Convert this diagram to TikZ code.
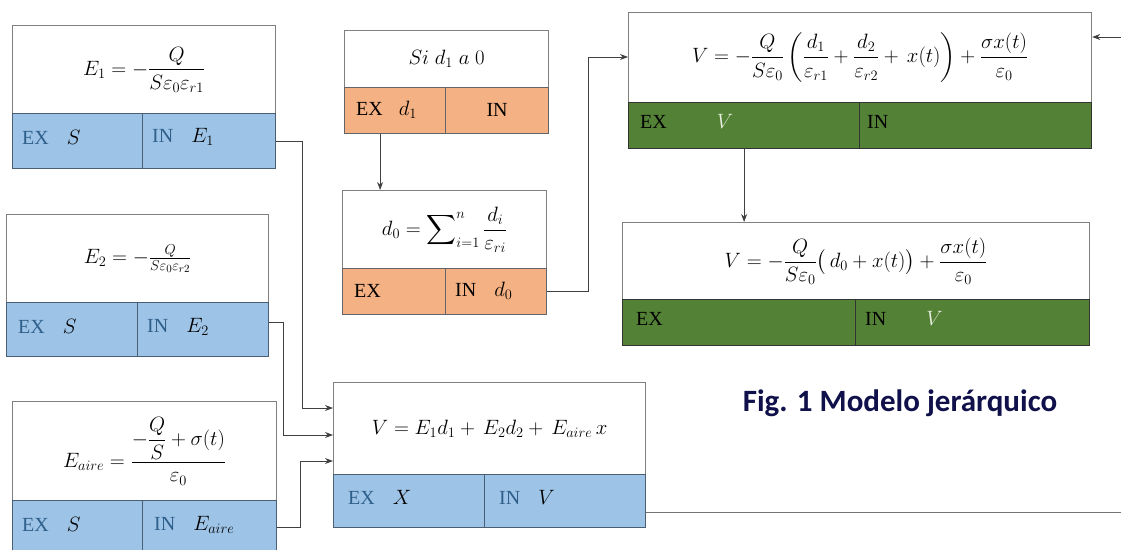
\documentclass[tikz,border=0pt]{standalone}
\usepackage{amsmath}
\usepackage{fontspec}
\setmainfont{Liberation Serif}
\newfontfamily\capfont{Carlito}
\usetikzlibrary{arrows.meta,calc}
\definecolor{cblue}{HTML}{9DC3E6}
\definecolor{corange}{HTML}{F4B183}
\definecolor{cgreen}{HTML}{538135}
\definecolor{bgray}{HTML}{808080}
\definecolor{bdark}{HTML}{4A5F73}
\definecolor{tblue}{HTML}{2E5F8A}
\definecolor{navy}{HTML}{10104A}
\definecolor{vlight}{HTML}{E8EEE0}
\tikzset{
  formbox/.style={draw=bgray, fill=white, line width=1.2pt, inner sep=0pt, anchor=north west, font=\fontsize{22}{26}\selectfont},
  bluecell/.style={draw=bdark, fill=cblue, line width=1.2pt, inner sep=0pt, anchor=north west},
  orangecell/.style={draw=bdark!80!brown, fill=corange, line width=1.2pt, inner sep=0pt, anchor=north west},
  greencell/.style={draw=black!80, fill=cgreen, line width=1.2pt, inner sep=0pt, anchor=north west},
  lbl/.style={anchor=west, inner sep=0pt, font=\fontsize{20}{24}\selectfont},
  conn/.style={draw=black!75, line width=0.9pt},
  arr/.style={conn, -{Stealth[length=8pt,width=6pt]}}
}
\begin{document}
\begin{tikzpicture}[x=1pt,y=-1pt]
\useasboundingbox (0,0) rectangle (1121,549);
% ---- Box E1
\node[formbox, minimum width=263, minimum height=88] (e1f) at (12,25) {$\displaystyle E_1 = -\frac{Q}{S\varepsilon_0\varepsilon_{r1}}$};
\node[bluecell, minimum width=130, minimum height=55] (e1ex) at (12,113) {};
\node[bluecell, minimum width=133, minimum height=55] (e1in) at (142,113) {};
\node[lbl, text=tblue] (e1exl) at ([xshift=10,yshift=4]e1ex.west) {EX\hspace{0.9em}\textcolor{black}{$S$}};
\node[lbl, text=tblue] (e1inl) at ([xshift=10,yshift=4]e1in.west) {IN\hspace{0.9em}\textcolor{black}{$E_1$}};
% ---- Box E2
\node[formbox, minimum width=262, minimum height=88] (e2f) at (6,214) {$E_2 = -\frac{Q}{S\varepsilon_0\varepsilon_{r2}}$};
\node[bluecell, minimum width=131, minimum height=54] (e2ex) at (6,302) {};
\node[bluecell, minimum width=131, minimum height=54] (e2in) at (137,302) {};
\node[lbl, text=tblue] (e2exl) at ([xshift=12,yshift=3]e2ex.west) {EX\hspace{0.9em}\textcolor{black}{$S$}};
\node[lbl, text=tblue] (e2inl) at ([xshift=10,yshift=3]e2in.west) {IN\hspace{0.9em}\textcolor{black}{$E_2$}};
% ---- Box Eaire
\node[formbox, minimum width=264, minimum height=99] (eaf) at (12,401) {$\displaystyle E_{aire} = \frac{-\dfrac{Q}{S}+\sigma(t)}{\varepsilon_0}$};
\node[bluecell, minimum width=130, minimum height=60] (eaex) at (12,500) {};
\node[bluecell, minimum width=134, minimum height=60] (eain) at (142,500) {};
\node[lbl, text=tblue] (eaexl) at ([xshift=10,yshift=6]eaex.west) {EX\hspace{0.9em}\textcolor{black}{$S$}};
\node[lbl, text=tblue] (eainl) at ([xshift=12,yshift=6]eain.west) {IN\hspace{0.9em}\textcolor{black}{$E_{aire}$}};
% ---- Box Si d1
\node[formbox, minimum width=204, minimum height=57] (s1f) at (344,30) {$Si\; d_1\; a\; 0$};
\node[orangecell, minimum width=101, minimum height=46] (s1ex) at (344,87) {};
\node[orangecell, minimum width=103, minimum height=46] (s1in) at (445,87) {};
\node[lbl] (s1exl) at ([xshift=12,yshift=1]s1ex.west) {EX\hspace{0.8em}$d_1$};
\node[lbl, anchor=center] (s1inl) at ([yshift=1]s1in.center) {IN};
% ---- Box d0
\node[formbox, minimum width=204, minimum height=78] (d0f) at (342,190) {$\displaystyle d_0 = \sum\nolimits_{i=1}^{n}\frac{d_i}{\varepsilon_{ri}}$};
\node[orangecell, minimum width=103, minimum height=46] (d0ex) at (342,268) {};
\node[orangecell, minimum width=101, minimum height=46] (d0in) at (445,268) {};
\node[lbl] (d0exl) at ([xshift=12,yshift=1]d0ex.west) {EX};
\node[lbl] (d0inl) at ([xshift=10,yshift=1]d0in.west) {IN\hspace{0.9em}$d_0$};
% ---- Box V (top)
\node[formbox, minimum width=463, minimum height=90] (vaf) at (628,12) {$\displaystyle V = -\frac{Q}{S\varepsilon_0}\left(\frac{d_1}{\varepsilon_{r1}} + \frac{d_2}{\varepsilon_{r2}} + \, x(t)\right) + \frac{\sigma x(t)}{\varepsilon_0}$};
\node[greencell, minimum width=231, minimum height=46] (vaex) at (628,102) {};
\node[greencell, minimum width=232, minimum height=46] (vain) at (859,102) {};
\node[lbl] (vaexl) at ([xshift=12,yshift=4]vaex.west) {EX\hspace{2.5em}\textcolor{vlight}{$V$}};
\node[lbl] (vainl) at ([xshift=8,yshift=4]vain.west) {IN};
% ---- Box V (second)
\node[formbox, minimum width=467, minimum height=77] (vbf) at (622,222) {$\displaystyle V = -\frac{Q}{S\varepsilon_0}\big(\, d_0 + x(t)\big) + \frac{\sigma x(t)}{\varepsilon_0}$};
\node[greencell, minimum width=233, minimum height=46] (vbex) at (622,299) {};
\node[greencell, minimum width=234, minimum height=46] (vbin) at (855,299) {};
\node[lbl] (vbexl) at ([xshift=14,yshift=4]vbex.west) {EX};
\node[lbl] (vbinl) at ([xshift=10,yshift=4]vbin.west) {IN\hspace{2em}\textcolor{vlight}{$V$}};
% ---- Box V = E1 d1 ...
\node[formbox, minimum width=312, minimum height=92] (vcf) at (333,382) {$V = E_1 d_1 + \, E_2 d_2 + \, E_{aire}\, x$};
\node[bluecell, minimum width=151, minimum height=53] (vcex) at (333,474) {};
\node[bluecell, minimum width=161, minimum height=53] (vcin) at (484,474) {};
\node[lbl, text=tblue] (vcexl) at ([xshift=15,yshift=4]vcex.west) {EX\hspace{0.9em}\textcolor{black}{$X$}};
\node[lbl, text=tblue] (vcinl) at ([xshift=15,yshift=4]vcin.west) {IN\hspace{0.9em}\textcolor{black}{$V$}};
% ---- caption
\node[font=\capfont\bfseries\fontsize{31}{36}\selectfont, text=navy] (cap) at (900,403) {Fig. 1 Modelo jerárquico};
% ---- connectors
\coordinate (j1) at (302,408);
\coordinate (j2) at (283,435);
\coordinate (j3) at (300,461);
\coordinate (j4) at (588,57);
\coordinate (rin) at (1121,37);
\coordinate (vout) at (1121,512);
\draw[conn] (e1in.east) -| (j1);
\draw[arr] (j1) -- (j1 -| vcf.west);
\draw[conn] ([yshift=7]e2in.east) -| (j2);
\draw[arr] (j2) -- (j2 -| vcf.west);
\draw[conn] ([yshift=3]eain.east) -| (j3);
\draw[arr] (j3) -- (j3 -| vcf.west);
\draw[arr] ([xshift=-15]s1ex.south) -- ([xshift=-15]s1ex.south |- d0f.north);
\draw[conn] (d0in.east) -| (j4);
\draw[arr] (j4) -- (j4 -| vaf.west);
\draw[arr] (vaex.south) -- (vaex.south |- vbf.north);
\draw[arr] (rin) -- (rin -| vaf.east);
\draw[conn, draw=black!55] (vcin.east |- vout) -- (vout);
\end{tikzpicture}
\end{document}
